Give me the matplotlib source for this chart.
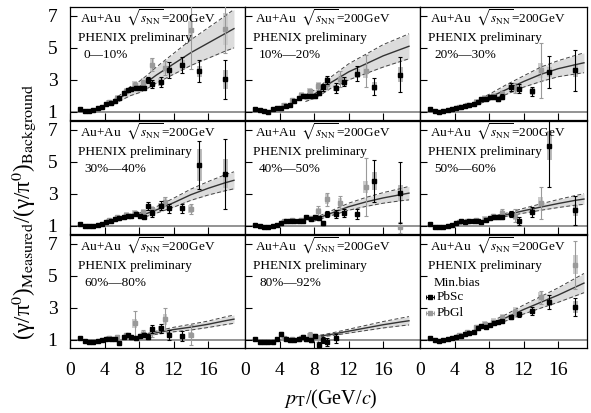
import numpy as np
import matplotlib
matplotlib.use("Agg")
import matplotlib.pyplot as plt
from matplotlib.patches import Rectangle

nan = np.nan

# ---------------- data ----------------
PT_SC = [1.2, 1.7, 2.2, 2.7, 3.2, 3.7, 4.2, 4.7, 5.2, 5.7, 6.2, 6.7, 7.1, 7.6, 8.1, 8.6, 9.0,
         9.5, 10.5, 11.5, 13.0, 15.0, 18.0]
PT_GL = [4.5, 5.5, 6.5, 7.5, 8.5, 9.5, 11.0, 14.0, 18.0]
CURVE_X = [5, 6, 7, 8, 9, 10, 12, 14, 16, 18, 19]
PT_SYS_SC = [9.5, 10.5, 11.5, 13.0, 15.0, 18.0]

CENTRALITY = ["0—10%", "10%—20%", "20%—30%", "30%—40%", "40%—50%", "50%—60%",
              "60%—80%", "80%—92%", "Min.bias"]

LOW_ERR = [0.02, 0.02, 0.02, 0.02, 0.03, 0.03, 0.03, 0.04, 0.04, 0.05, 0.05, 0.06]

# PbSc (black) values
Y_SC_0_10 = [1.19, 1.08, 1.04, 1.12, 1.23, 1.33, 1.49, 1.56, 1.70, 1.90, 2.20, 2.38, 2.46, 2.52, 2.52, 2.52, 2.98,
             2.77, 2.89, 3.60, 3.92, 3.55, 3.04]
Y_SC_10_20 = [1.19, 1.12, 1.04, 1.02, 1.19, 1.25, 1.27, 1.35, 1.43, 1.70, 1.86, 1.97, 1.97, 1.97, 1.97, 2.20, 2.54,
              3.00, 2.50, 2.90, 3.40, 2.58, 3.33]
Y_SC_20_30 = [1.19, 1.04, 1.02, 1.06, 1.12, 1.19, 1.23, 1.29, 1.35, 1.43, 1.49, 1.62, 1.80, 1.84, 1.95, 1.95, 1.80,
              1.95, 2.58, 2.46, 2.28, 3.49, 3.59]
Y_SC_30_40 = [1.12, 1.02, 1.00, 1.02, 1.06, 1.12, 1.23, 1.33, 1.44, 1.48, 1.54, 1.60, 1.65, 1.75, 1.65, 1.58, 2.23,
              1.79, 2.27, 2.10, 2.10, 4.81, 4.25]
Y_SC_40_50 = [1.06, 0.98, 0.92, 0.92, 1.02, 1.08, 1.16, 1.29, 1.33, 1.33, 1.33, 1.29, 1.53, 1.43, 1.53, 1.49, 1.19,
              1.74, 1.74, 1.78, 1.74, 3.80, 3.08]
Y_SC_50_60 = [1.12, 0.96, 0.92, 0.96, 1.02, 1.08, 1.16, 1.29, 1.23, 1.29, 1.29, 1.29, 1.23, 1.37, 1.49, 1.53, 1.53,
              1.53, 1.74, 1.33, 1.88, 6.02, 1.99]
Y_SC_60_80 = [1.10, 0.96, 0.86, 0.90, 0.96, 1.00, 1.04, 1.04, 1.06, 0.84, 1.20, 1.31, 1.16, 1.10, 1.25, 1.31, 1.20,
              1.66, 1.72, 1.31, 1.25, nan, nan]
Y_SC_80_92 = [1.06, 0.90, 0.86, 0.86, 0.86, 1.04, 1.37, 1.04, 1.00, 1.00, 1.04, 1.20, 1.04, 1.00, 1.25, 0.69, 1.00,
              0.90, 1.10, nan, nan, nan, nan]
Y_SC_MB = [1.10, 1.00, 0.94, 1.00, 1.06, 1.10, 1.16, 1.25, 1.35, 1.41, 1.51, 1.72, 1.86, 1.82, 1.93, 2.03, 2.13,
           2.19, 2.44, 2.60, 2.79, 3.37, 3.06]

E_SC_0_10 = LOW_ERR + [0.07, 0.08, 0.09, 0.10, 0.20, 0.25, 0.30, 0.50, 0.50, 0.70, 1.20]
E_SC_10_20 = LOW_ERR + [0.08, 0.09, 0.10, 0.12, 0.20, 0.25, 0.30, 0.30, 0.45, 0.55, 1.10]
E_SC_20_30 = LOW_ERR + [0.08, 0.10, 0.10, 0.12, 0.12, 0.15, 0.25, 0.30, 0.30, 1.00, 1.30]
E_SC_30_40 = LOW_ERR + [0.08, 0.08, 0.10, 0.10, 0.25, 0.20, 0.30, 0.30, 0.30, 1.50, 2.20]
E_SC_40_50 = LOW_ERR + [0.08, 0.08, 0.10, 0.12, 0.12, 0.20, 0.25, 0.25, 0.30, 1.30, 1.90]
E_SC_50_60 = LOW_ERR + [0.07, 0.08, 0.08, 0.10, 0.12, 0.12, 0.20, 0.25, 0.30, 2.60, 0.90]
E_SC_60_80 = LOW_ERR + [0.08, 0.10, 0.10, 0.12, 0.15, 0.25, 0.30, 0.30, 0.30, nan, nan]
E_SC_80_92 = [0.03, 0.03, 0.03, 0.04, 0.05, 0.06, 0.12, 0.07, 0.07, 0.08, 0.08, 0.10, 0.10, 0.12, 0.15, 0.20,
              0.20, 0.25, 0.30, nan, nan, nan, nan]
E_SC_MB = LOW_ERR + [0.05, 0.05, 0.06, 0.06, 0.07, 0.08, 0.10, 0.15, 0.25, 0.45, 0.55]

S_SC_0_10 = [0.20, 0.25, 0.30, 0.30, 0.35, 0.60]
S_SC_10_20 = [0.20, 0.20, 0.25, 0.30, 0.30, 0.45]
S_SC_20_30 = [0.15, 0.15, 0.20, 0.20, 0.30, 0.40]
S_SC_30_40 = [0.12, 0.15, 0.15, 0.15, 1.00, 0.90]
S_SC_40_50 = [0.10, 0.12, 0.12, 0.15, 0.55, 0.50]
S_SC_50_60 = [0.10, 0.10, 0.12, 0.15, 0.90, 0.35]
S_SC_60_80 = [0.12, 0.15, 0.15, 0.15, nan, nan]
S_SC_80_92 = [0.10, nan, nan, nan, nan, nan]
S_SC_MB = [0.10, 0.12, 0.15, 0.15, 0.25, 0.40]

# PbGl (grey) values
Y_GL_0_10 = [1.60, 1.90, 2.30, 2.70, 2.80, 3.96, 3.76, 6.10, 6.16]
Y_GL_10_20 = [1.45, 1.75, 2.05, 2.30, 2.60, 2.75, 3.04, 3.55, nan]
Y_GL_20_30 = [1.30, 1.45, 1.65, 1.85, 2.00, 2.10, 2.50, 3.59, nan]
Y_GL_30_40 = [1.35, 1.55, 1.70, 1.80, 1.85, 2.00, 2.52, 2.06, nan]
Y_GL_40_50 = [1.30, 1.35, 1.40, 1.50, 1.95, 2.67, 2.46, 3.43, 0.92]
Y_GL_50_60 = [1.25, 1.30, 1.35, 1.45, 1.60, 1.78, 1.64, 2.46, nan]
Y_GL_60_80 = [1.15, 1.20, 1.30, 2.03, 1.40, 1.50, 2.30, 1.31, nan]
Y_GL_80_92 = [1.10, 1.05, 1.15, 1.31, 1.10, nan, nan, nan, nan]
Y_GL_MB = [1.30, 1.50, 1.80, 2.00, 2.15, 2.40, 2.75, 3.67, 5.70]

E_GL_0_10 = [0.05, 0.07, 0.10, 0.15, 0.20, 0.40, 0.45, 2.40, 1.50]
E_GL_10_20 = [0.05, 0.07, 0.10, 0.12, 0.20, 0.30, 0.50, 1.00, nan]
E_GL_20_30 = [0.05, 0.06, 0.08, 0.10, 0.15, 0.20, 0.30, 1.70, nan]
E_GL_30_40 = [0.05, 0.06, 0.08, 0.10, 0.15, 0.20, 0.30, 0.30, nan]
E_GL_40_50 = [0.05, 0.06, 0.08, 0.10, 0.30, 0.40, 0.40, 1.80, 0.35]
E_GL_50_60 = [0.05, 0.06, 0.08, 0.10, 0.15, 0.30, 0.40, 1.00, nan]
E_GL_60_80 = [0.10, 0.10, 0.15, 0.80, 0.20, 0.30, 0.70, 0.60, nan]
E_GL_80_92 = [0.08, 0.10, 0.12, 0.20, 0.20, nan, nan, nan, nan]
E_GL_MB = [0.04, 0.05, 0.06, 0.08, 0.10, 0.15, 0.20, 0.40, 1.50]

S_GL_0_10 = [0.12, 0.15, 0.20, 0.25, 0.30, 0.40, 0.40, 0.60, 1.00]
S_GL_10_20 = [0.12, 0.15, 0.20, 0.22, 0.30, 0.30, 0.35, 0.45, nan]
S_GL_20_30 = [0.10, 0.12, 0.15, 0.18, 0.20, 0.25, 0.30, 0.45, nan]
S_GL_30_40 = [0.10, 0.12, 0.15, 0.18, 0.20, 0.25, 0.30, 0.25, nan]
S_GL_40_50 = [0.10, 0.10, 0.12, 0.15, 0.20, 0.30, 0.30, 0.40, 0.10]
S_GL_50_60 = [0.08, 0.10, 0.12, 0.15, 0.15, 0.20, 0.25, 0.35, nan]
S_GL_60_80 = [0.08, 0.10, 0.12, 0.30, 0.15, 0.20, 0.35, 0.20, nan]
S_GL_80_92 = [0.06, 0.08, 0.10, 0.12, 0.12, nan, nan, nan, nan]
S_GL_MB = [0.10, 0.12, 0.15, 0.18, 0.20, 0.25, 0.30, 0.35, 0.60]

# theory curve (central value and half-width of band)
C_0_10 = [1.60, 1.95, 2.30, 2.55, 2.90, 3.30, 4.00, 4.70, 5.30, 5.90, 6.20]
W_0_10 = [0.12, 0.20, 0.28, 0.35, 0.42, 0.50, 0.65, 0.80, 0.95, 1.10, 1.20]
C_10_20 = [nan, nan, 1.85, 2.10, 2.45, 2.85, 3.50, 4.00, 4.50, 4.90, 5.10]
W_10_20 = [nan, nan, 0.20, 0.25, 0.30, 0.35, 0.50, 0.60, 0.70, 0.75, 0.78]
C_20_30 = [nan, nan, 1.70, 1.90, 2.15, 2.40, 2.90, 3.35, 3.70, 3.95, 4.07]
W_20_30 = [nan, nan, 0.15, 0.20, 0.25, 0.30, 0.35, 0.45, 0.50, 0.58, 0.62]
C_30_40 = [nan, nan, nan, 1.65, 1.80, 2.00, 2.45, 2.95, 3.35, 3.70, 3.85]
W_30_40 = [nan, nan, nan, 0.15, 0.18, 0.20, 0.28, 0.35, 0.42, 0.50, 0.53]
C_40_50 = [nan, nan, nan, 1.40, 1.60, 1.80, 2.20, 2.50, 2.75, 2.95, 3.05]
W_40_50 = [nan, nan, nan, 0.10, 0.12, 0.15, 0.22, 0.28, 0.33, 0.38, 0.42]
C_50_60 = [nan, nan, nan, nan, 1.60, 1.70, 1.95, 2.18, 2.40, 2.60, 2.68]
W_50_60 = [nan, nan, nan, nan, 0.08, 0.10, 0.15, 0.20, 0.25, 0.30, 0.33]
C_60_80 = [nan, nan, nan, nan, 1.35, 1.45, 1.65, 1.80, 1.98, 2.20, 2.30]
W_60_80 = [nan, nan, nan, nan, 0.06, 0.10, 0.14, 0.18, 0.20, 0.24, 0.26]
C_80_92 = [nan, nan, nan, 1.20, 1.27, 1.35, 1.55, 1.75, 1.95, 2.12, 2.20]
W_80_92 = [nan, nan, nan, 0.05, 0.06, 0.08, 0.12, 0.16, 0.20, 0.24, 0.26]
C_MB = [nan, nan, nan, nan, 2.20, 2.40, 2.90, 3.35, 3.80, 4.30, 4.55]
W_MB = [nan, nan, nan, nan, 0.15, 0.20, 0.28, 0.36, 0.45, 0.55, 0.60]

Y_SC = [Y_SC_0_10, Y_SC_10_20, Y_SC_20_30, Y_SC_30_40, Y_SC_40_50, Y_SC_50_60, Y_SC_60_80, Y_SC_80_92, Y_SC_MB]
E_SC = [E_SC_0_10, E_SC_10_20, E_SC_20_30, E_SC_30_40, E_SC_40_50, E_SC_50_60, E_SC_60_80, E_SC_80_92, E_SC_MB]
S_SC = [S_SC_0_10, S_SC_10_20, S_SC_20_30, S_SC_30_40, S_SC_40_50, S_SC_50_60, S_SC_60_80, S_SC_80_92, S_SC_MB]
Y_GL = [Y_GL_0_10, Y_GL_10_20, Y_GL_20_30, Y_GL_30_40, Y_GL_40_50, Y_GL_50_60, Y_GL_60_80, Y_GL_80_92, Y_GL_MB]
E_GL = [E_GL_0_10, E_GL_10_20, E_GL_20_30, E_GL_30_40, E_GL_40_50, E_GL_50_60, E_GL_60_80, E_GL_80_92, E_GL_MB]
S_GL = [S_GL_0_10, S_GL_10_20, S_GL_20_30, S_GL_30_40, S_GL_40_50, S_GL_50_60, S_GL_60_80, S_GL_80_92, S_GL_MB]
C_TH = [C_0_10, C_10_20, C_20_30, C_30_40, C_40_50, C_50_60, C_60_80, C_80_92, C_MB]
W_TH = [W_0_10, W_10_20, W_20_30, W_30_40, W_40_50, W_50_60, W_60_80, W_80_92, W_MB]

X_TICKS = [0, 4, 8, 12, 16]
Y_TICKS = [1, 3, 5, 7]

# ---------------- style ----------------
plt.rcParams["font.family"] = ["Liberation Serif", "DejaVu Serif"]
plt.rcParams["mathtext.fontset"] = "stix"

W_PX, H_PX = 591, 413
fig = plt.figure(figsize=(W_PX / 100, H_PX / 100), dpi=100)

col_left = [70, 245, 420]
col_w = [175, 175, 167]
row_top = [7, 121, 235]
row_h = 113
px_per_x = 8.63
YLIM = (0.5, 7.55)

BOX_SC = "#bdbdbd"
BOX_GL = "#cdcdcd"
GREY_PT = "#9a9a9a"
BAND = "#dcdcdc"

for i in range(9):
    r, c = divmod(i, 3)
    l = col_left[c] / W_PX
    b = 1 - (row_top[r] + row_h) / H_PX
    ax = fig.add_axes([l, b, col_w[c] / W_PX, row_h / H_PX])
    ax.set_xlim(0, col_w[c] / px_per_x)
    ax.set_ylim(*YLIM)

    # y = 1 reference
    ax.axhline(1.0, color="#8a8a8a", lw=1.3, zorder=1)

    # theory band
    cx = np.array(CURVE_X, float)
    cy = np.array(C_TH[i], float)
    cw = np.array(W_TH[i], float)
    ax.fill_between(cx, cy - cw, cy + cw, color=BAND, lw=0, zorder=2)
    ax.plot(cx, cy + cw, ls=(0, (4, 2.5)), color="#444444", lw=0.7, zorder=5)
    ax.plot(cx, cy - cw, ls=(0, (4, 2.5)), color="#444444", lw=0.7, zorder=5)
    ax.plot(cx, cy, color="#333333", lw=1.0, zorder=5)

    # systematic boxes
    for x, y, s in zip(PT_GL, Y_GL[i], S_GL[i]):
        if np.isfinite(y) and np.isfinite(s):
            ax.add_patch(Rectangle((x - 0.28, y - s), 0.56, 2 * s, color=BOX_GL, lw=0, zorder=3))
    ysc = np.array(Y_SC[i], float)
    for x, s in zip(PT_SYS_SC, S_SC[i]):
        y = ysc[PT_SC.index(x)]
        if np.isfinite(y) and np.isfinite(s):
            ax.add_patch(Rectangle((x - 0.28, y - s), 0.56, 2 * s, color=BOX_SC, lw=0, zorder=3))

    # PbGl points
    ax.errorbar(PT_GL, Y_GL[i], yerr=E_GL[i], fmt="s", color=GREY_PT, ms=2.4,
                elinewidth=0.8, capsize=1.6, capthick=0.8, zorder=6, clip_on=True)
    # PbSc points
    ax.errorbar(PT_SC, Y_SC[i], yerr=E_SC[i], fmt="s", color="black", ms=2.4,
                elinewidth=0.8, capsize=1.6, capthick=0.8, zorder=7, clip_on=True)

    # ticks
    ax.set_xticks(X_TICKS)
    ax.set_yticks(Y_TICKS)
    ax.tick_params(direction="in", length=5, width=0.8, top=False, right=False,
                   labelsize=14, pad=10)
    ax.tick_params(axis="y", pad=9)
    if r < 2:
        ax.set_xticklabels([])
    if c > 0:
        ax.set_yticklabels([])
    for sp in ax.spines.values():
        sp.set_linewidth(0.9)

    # texts
    ax.text(10 / col_w[c], 1 - 11 / row_h, r"Au+Au  $\sqrt{s_{\rm NN}}$=200GeV",
            transform=ax.transAxes, fontsize=9.5, va="center", ha="left", zorder=8)
    ax.text(8 / col_w[c], 1 - 31 / row_h, "PHENIX preliminary",
            transform=ax.transAxes, fontsize=9.5, va="center", ha="left", zorder=8)
    ax.text(14 / col_w[c], 1 - 48 / row_h, CENTRALITY[i],
            transform=ax.transAxes, fontsize=9.5, va="center", ha="left", zorder=8)

    if i == 8:
        for yy, col, lab in [(1 - 62 / row_h, "black", "PbSc"), (1 - 78 / row_h, GREY_PT, "PbGl")]:
            ax.errorbar([0.06], [yy], xerr=[0.025], fmt="s", color=col, ms=2.4,
                        elinewidth=0.7, capsize=1.5, capthick=0.7, transform=ax.transAxes, zorder=8)
            ax.text(0.1, yy, lab, transform=ax.transAxes, fontsize=9.5, va="center", ha="left")

fig.text(331 / W_PX, 1 - 399 / H_PX, r"$p_{\rm T}$/(GeV/$c$)", fontsize=14.5, ha="center", va="center")
fig.text(24 / W_PX, 1 - 212 / H_PX,
         r"(γ/π$^{0}$)$_{\rm Measured}$/(γ/π$^{0}$)$_{\rm Background}$",
         fontsize=16.5, ha="center", va="center", rotation=90)

fig.savefig("out.png", dpi=100)
